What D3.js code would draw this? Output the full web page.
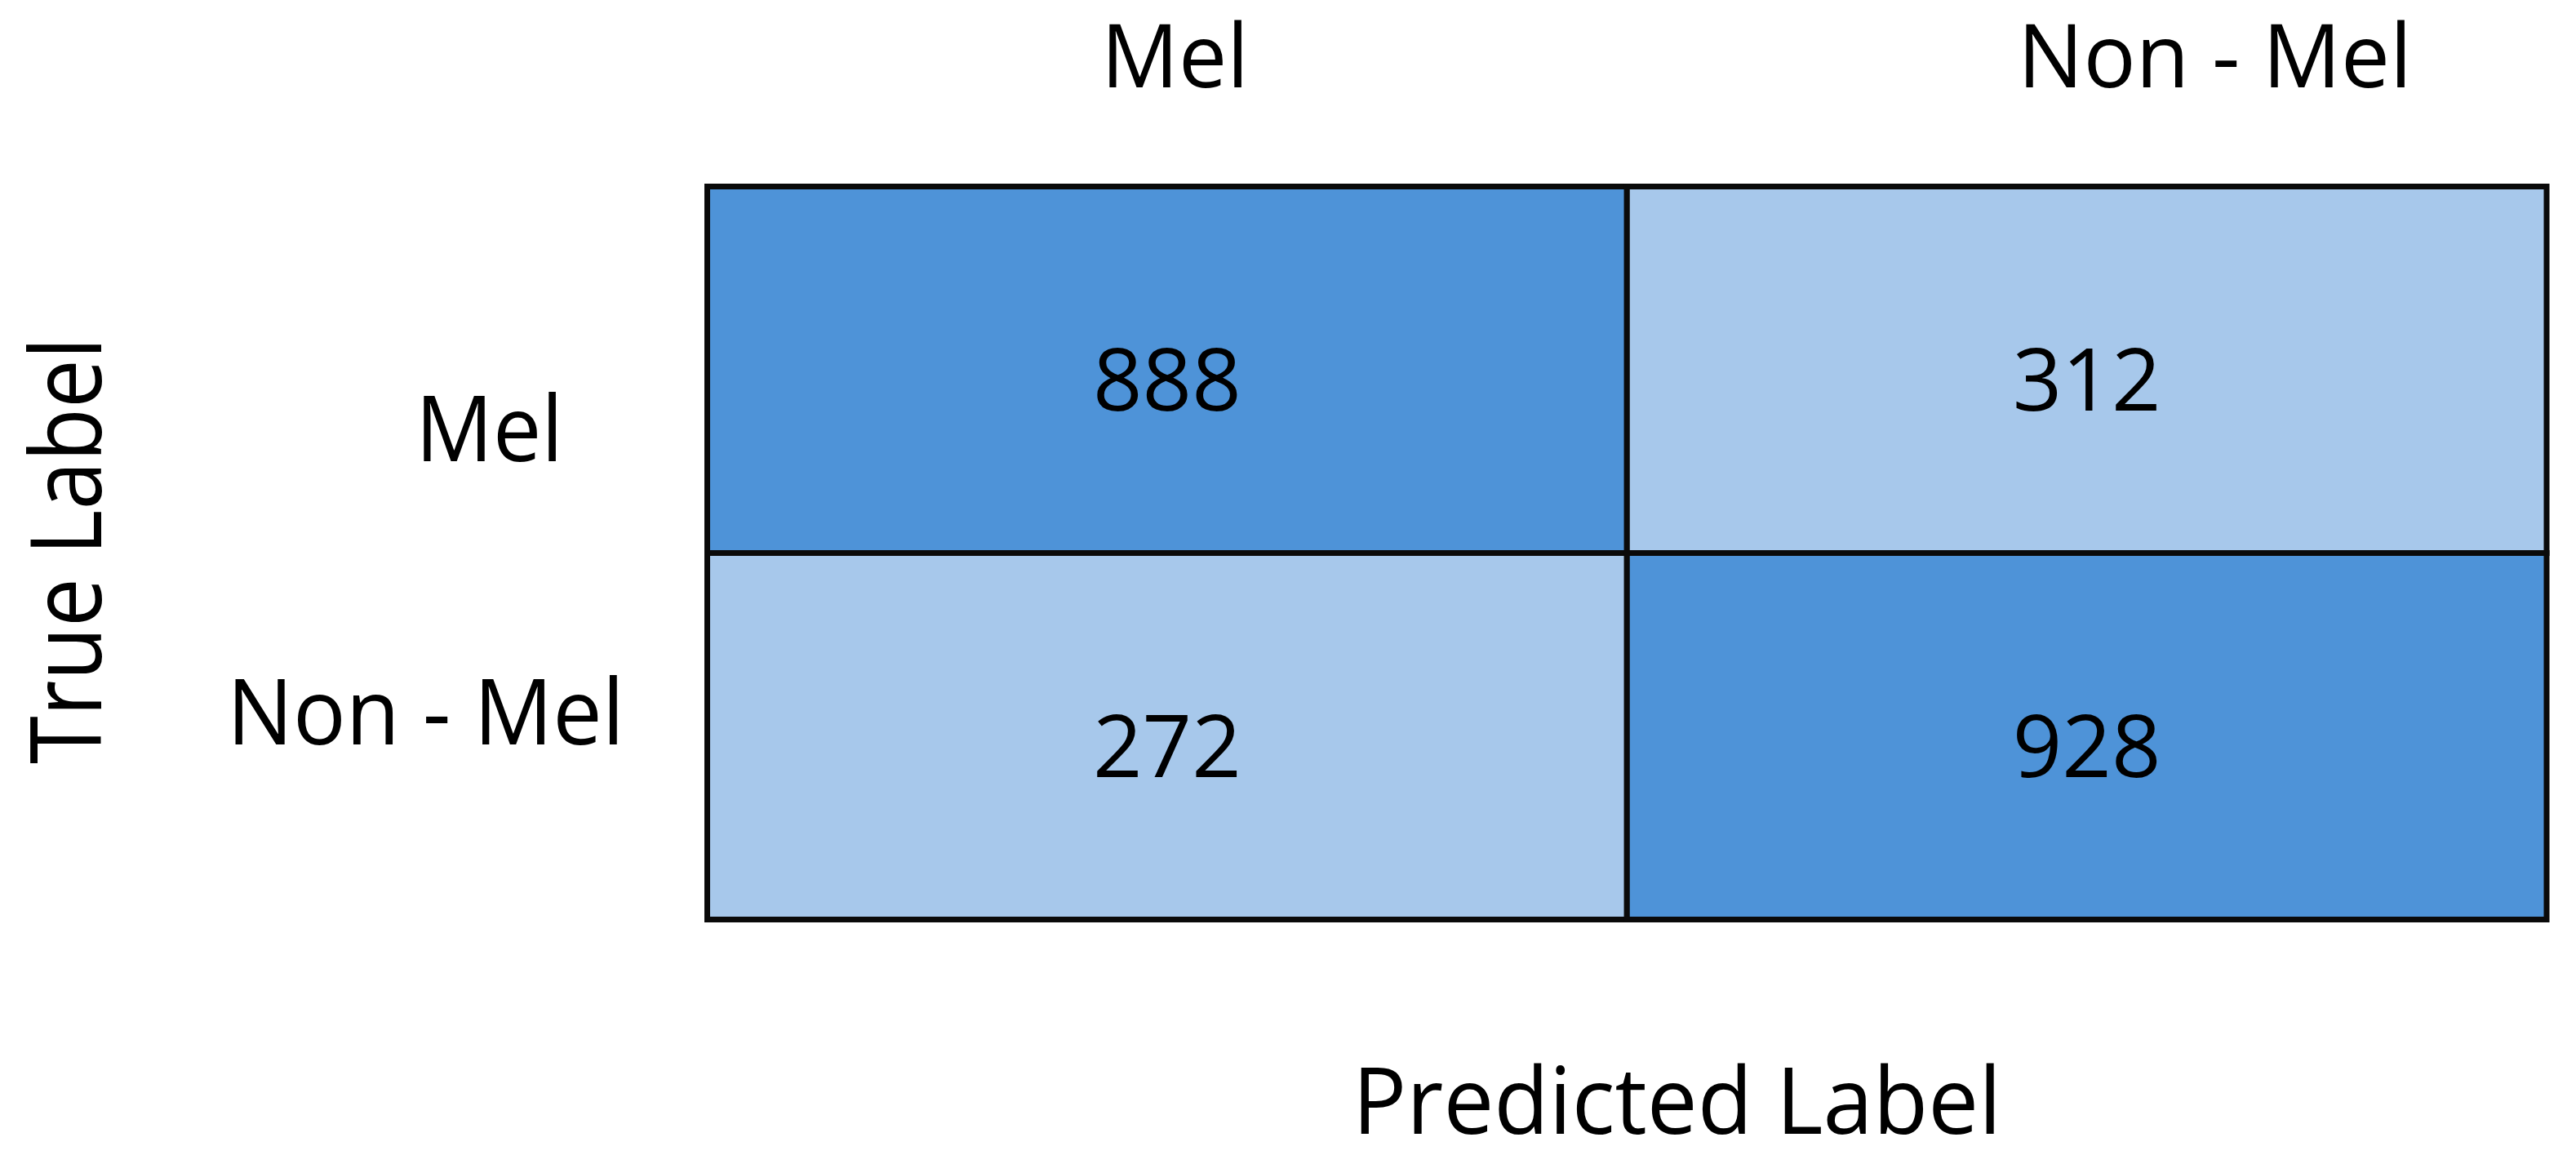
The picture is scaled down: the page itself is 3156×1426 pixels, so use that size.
<!DOCTYPE html>
<html>
<head>
<meta charset="utf-8">
<script src="https://cdn.jsdelivr.net/npm/d3@7"></script>
<style>
  html, body { margin: 0; padding: 0; background: #ffffff; }
  svg { display: block; }
  text { font-family: "Open Sans", "Noto Sans", sans-serif; fill: #000; }
</style>
</head>
<body>
<svg id="chart" width="3156" height="1426"></svg>
<script>
// ---- data ----
const predictedLabels = ["Mel", "Non - Mel"];
const trueLabels = ["Mel", "Non - Mel"];
const matrixValues = [
  [888, 312],
  [272, 928]
];
const xTitle = "Predicted Label";
const yTitle = "True Label";

// ---- layout ----
const grid = { left: 866.5, right: 3120, top: 228.5, bottom: 1126.5 };
const colDark = "#4e93d8", colLight = "#a7c8eb";

const svg = d3.select("#chart");

const x = d3.scaleBand().domain(predictedLabels).range([grid.left, grid.right]).padding(0);
const y = d3.scaleBand().domain(trueLabels).range([grid.top, grid.bottom]).padding(0);
const color = d3.scaleThreshold().domain([600]).range([colLight, colDark]);

const cells = [];
trueLabels.forEach((t, i) => predictedLabels.forEach((p, j) => cells.push({ t, p, v: matrixValues[i][j] })));

// cells
svg.append("g").selectAll("rect").data(cells).join("rect")
  .attr("x", d => x(d.p))
  .attr("y", d => y(d.t))
  .attr("width", x.bandwidth())
  .attr("height", y.bandwidth())
  .attr("fill", d => color(d.v))
  .attr("stroke", "#0a0a0a")
  .attr("stroke-width", 7);

// values
svg.append("g").selectAll("text").data(cells).join("text")
  .attr("x", d => x(d.p) + x.bandwidth() / 2)
  .attr("y", d => y(d.t) + y.bandwidth() / 2 + 50)
  .attr("text-anchor", "middle")
  .attr("font-size", 106)
  .text(d => d.v.toLocaleString("en-US"));

// top (predicted) category labels
const topLayout = { "Mel": { x0: 1349, w: 181 }, "Non - Mel": { x0: 2472, w: 483 } };
svg.append("g").selectAll("text").data(predictedLabels).join("text")
  .attr("x", d => topLayout[d].x0)
  .attr("y", 107)
  .attr("font-size", 108)
  .attr("textLength", d => topLayout[d].w)
  .attr("lengthAdjust", "spacingAndGlyphs")
  .text(d => d);

// left (true) category labels
const leftLayout = { "Mel": { x0: 509, w: 181, dy: 112 }, "Non - Mel": { x0: 278, w: 487, dy: 10 } };
svg.append("g").selectAll("text").data(trueLabels).join("text")
  .attr("x", d => leftLayout[d].x0)
  .attr("y", d => y(d) + y.bandwidth() / 2 + leftLayout[d].dy)
  .attr("font-size", 112)
  .attr("textLength", d => leftLayout[d].w)
  .attr("lengthAdjust", "spacingAndGlyphs")
  .text(d => d);

// axis titles
svg.append("text")
  .attr("x", 1657)
  .attr("y", 1389)
  .attr("font-size", 113)
  .attr("textLength", 795)
  .attr("lengthAdjust", "spacingAndGlyphs")
  .text(xTitle);

svg.append("text")
  .attr("transform", "translate(124,936) rotate(-90)")
  .attr("x", 0)
  .attr("y", 0)
  .attr("font-size", 120)
  .attr("textLength", 523)
  .attr("lengthAdjust", "spacingAndGlyphs")
  .text(yTitle);
</script>
</body>
</html>
